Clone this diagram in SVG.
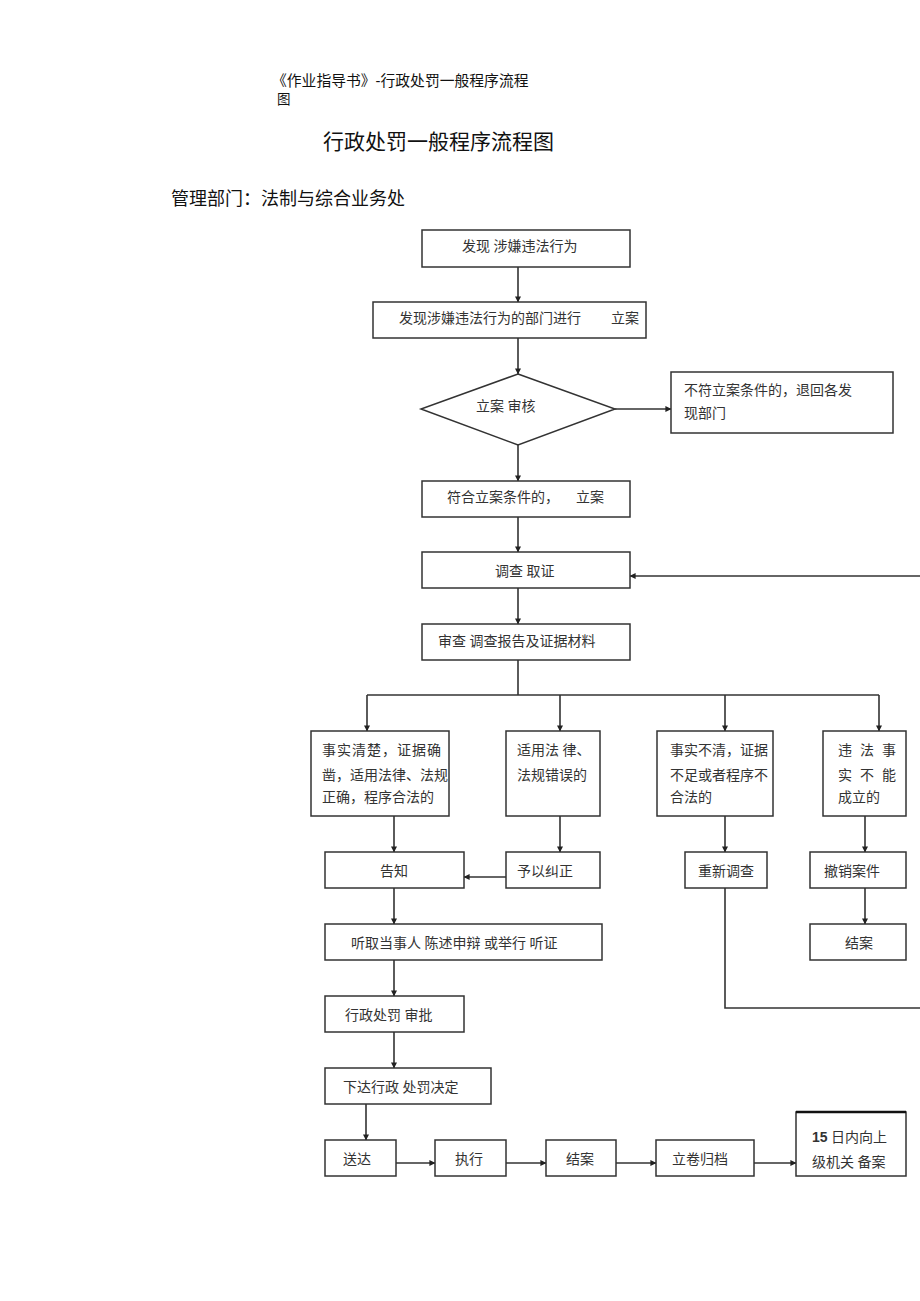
<svg xmlns="http://www.w3.org/2000/svg" width="920" height="1301" viewBox="0 0 920 1301">
<style>
.b{fill:#fff;stroke:#333;stroke-width:1.5}
.t{font-family:"Liberation Serif","Noto Sans CJK SC",serif;font-size:14px;fill:#333}
.h{font-family:"Liberation Sans","Noto Sans CJK SC",sans-serif;fill:#111}
.c{fill:none;stroke:#333;stroke-width:1.6}
</style>
<defs>
<marker id="a" viewBox="0 0 8 8" refX="7.5" refY="4" markerWidth="6" markerHeight="6" orient="auto" markerUnits="userSpaceOnUse">
<path d="M0,0 L8,4 L0,8 Z" fill="#222"/>
</marker>
</defs>
<rect width="920" height="1301" fill="#fff"/>
<g id="header">
<text class="h" x="272" y="86" font-size="14.8">《作业指导书》-行政处罚一般程序流程</text>
<text class="h" x="277" y="104" font-size="13.5">图</text>
<text class="h" x="323" y="149" font-size="21">行政处罚一般程序流程图</text>
<text class="h" x="171" y="205" font-size="18">管理部门：法制与综合业务处</text>
</g>
<g id="connectors">
<line class="c" x1="518" y1="267" x2="518" y2="302" marker-end="url(#a)"/>
<line class="c" x1="518" y1="338" x2="518" y2="374" marker-end="url(#a)"/>
<line class="c" x1="615" y1="409" x2="671" y2="409" marker-end="url(#a)"/>
<line class="c" x1="518" y1="445" x2="518" y2="481" marker-end="url(#a)"/>
<line class="c" x1="518" y1="517" x2="518" y2="552" marker-end="url(#a)"/>
<line class="c" x1="518" y1="588" x2="518" y2="624" marker-end="url(#a)"/>
<line class="c" x1="925" y1="576" x2="630" y2="576" marker-end="url(#a)"/>
<line class="c" x1="518" y1="660" x2="518" y2="695"/>
<line class="c" x1="367" y1="695" x2="879" y2="695"/>
<line class="c" x1="367" y1="695" x2="367" y2="731" marker-end="url(#a)"/>
<line class="c" x1="560" y1="695" x2="560" y2="731" marker-end="url(#a)"/>
<line class="c" x1="725" y1="695" x2="725" y2="731" marker-end="url(#a)"/>
<line class="c" x1="879" y1="695" x2="879" y2="731" marker-end="url(#a)"/>
<line class="c" x1="394" y1="816" x2="394" y2="852" marker-end="url(#a)"/>
<line class="c" x1="560" y1="816" x2="560" y2="852" marker-end="url(#a)"/>
<line class="c" x1="725" y1="816" x2="725" y2="852" marker-end="url(#a)"/>
<line class="c" x1="865" y1="816" x2="865" y2="852" marker-end="url(#a)"/>
<line class="c" x1="506" y1="877" x2="464" y2="877" marker-end="url(#a)"/>
<polyline class="c" points="725,888 725,1008 925,1008"/>
<line class="c" x1="865" y1="888" x2="865" y2="924" marker-end="url(#a)"/>
<line class="c" x1="394" y1="888" x2="394" y2="924" marker-end="url(#a)"/>
<line class="c" x1="394" y1="960" x2="394" y2="996" marker-end="url(#a)"/>
<line class="c" x1="394" y1="1032" x2="394" y2="1068" marker-end="url(#a)"/>
<line class="c" x1="366" y1="1104" x2="366" y2="1140" marker-end="url(#a)"/>
<line class="c" x1="396" y1="1163" x2="435" y2="1163" marker-end="url(#a)"/>
<line class="c" x1="506" y1="1163" x2="546" y2="1163" marker-end="url(#a)"/>
<line class="c" x1="616" y1="1163" x2="656" y2="1163" marker-end="url(#a)"/>
<line class="c" x1="754" y1="1163" x2="796" y2="1163" marker-end="url(#a)"/>
</g>
<g id="n1"><rect class="b" x="422" y="230" width="208" height="37"/><text class="t" x="462" y="251">发现 涉嫌违法行为</text></g>
<g id="n2"><rect class="b" x="373" y="302" width="273" height="36" stroke-width="2"/><text class="t" x="399" y="323">发现涉嫌违法行为的部门进行</text><text class="t" x="611" y="323">立案</text></g>
<g id="n3"><polygon class="b" points="518,374 615,409 518,445 421,409"/><text class="t" x="476" y="411">立案 审核</text></g>
<g id="n4"><rect class="b" x="671" y="372" width="222" height="61"/><text class="t" x="684" y="395">不符立案条件的，退回各发</text><text class="t" x="684" y="418">现部门</text></g>
<g id="n5"><rect class="b" x="422" y="481" width="208" height="36"/><text class="t" x="447" y="502">符合立案条件的，</text><text class="t" x="576" y="502">立案</text></g>
<g id="n6"><rect class="b" x="422" y="552" width="208" height="36"/><text class="t" x="495" y="576">调查 取证</text></g>
<g id="n7"><rect class="b" x="422" y="624" width="208" height="36"/><text class="t" x="438" y="646">审查 调查报告及证据材料</text></g>
<g id="n8"><rect class="b" x="311" y="731" width="138" height="85"/><text class="t" x="322" y="755" letter-spacing="1">事实清楚，证据确</text><text class="t" x="322" y="780">凿，适用法律、法规</text><text class="t" x="322" y="802">正确，程序合法的</text></g>
<g id="n9"><rect class="b" x="506" y="731" width="94" height="85"/><text class="t" x="517" y="755">适用法 律、</text><text class="t" x="517" y="780">法规错误的</text></g>
<g id="n10"><rect class="b" x="657" y="731" width="116" height="85"/><text class="t" x="670" y="755">事实不清，证据</text><text class="t" x="670" y="780">不足或者程序不</text><text class="t" x="670" y="802">合法的</text></g>
<g id="n11"><rect class="b" x="823" y="731" width="83" height="85"/><text class="t" x="838" y="755" letter-spacing="8">违法事</text><text class="t" x="838" y="780" letter-spacing="8">实不能</text><text class="t" x="838" y="802">成立的</text></g>
<g id="n12"><rect class="b" x="325" y="852" width="139" height="36"/><text class="t" x="380" y="876">告知</text></g>
<g id="n13"><rect class="b" x="506" y="852" width="94" height="36"/><text class="t" x="517" y="876">予以纠正</text></g>
<g id="n14"><rect class="b" x="685" y="852" width="82" height="36"/><text class="t" x="698" y="876">重新调查</text></g>
<g id="n15"><rect class="b" x="810" y="852" width="96" height="36"/><text class="t" x="824" y="876">撤销案件</text></g>
<g id="n16"><rect class="b" x="810" y="924" width="96" height="36"/><text class="t" x="845" y="948">结案</text></g>
<g id="n17"><rect class="b" x="325" y="924" width="277" height="36"/><text class="t" x="351" y="948">听取当事人  陈述申辩  或举行 听证</text></g>
<g id="n18"><rect class="b" x="325" y="996" width="139" height="36"/><text class="t" x="345" y="1020">行政处罚  审批</text></g>
<g id="n19"><rect class="b" x="325" y="1068" width="166" height="36"/><text class="t" x="343" y="1092">下达行政  处罚决定</text></g>
<g id="n20"><rect class="b" x="325" y="1140" width="71" height="36"/><text class="t" x="343" y="1164">送达</text></g>
<g id="n21"><rect class="b" x="435" y="1140" width="71" height="36"/><text class="t" x="455" y="1164">执行</text></g>
<g id="n22"><rect class="b" x="546" y="1140" width="70" height="36"/><text class="t" x="566" y="1164">结案</text></g>
<g id="n23"><rect class="b" x="656" y="1140" width="98" height="36"/><text class="t" x="672" y="1164">立卷归档</text></g>
<g id="n24"><rect class="b" x="796" y="1112" width="110" height="64"/><line x1="796" y1="1112" x2="906" y2="1112" stroke="#111" stroke-width="2.5"/><text class="t" x="812" y="1142"><tspan font-family="Liberation Sans" font-weight="bold">15</tspan> 日内向上</text><text class="t" x="812" y="1167">级机关 备案</text></g>
</svg>
